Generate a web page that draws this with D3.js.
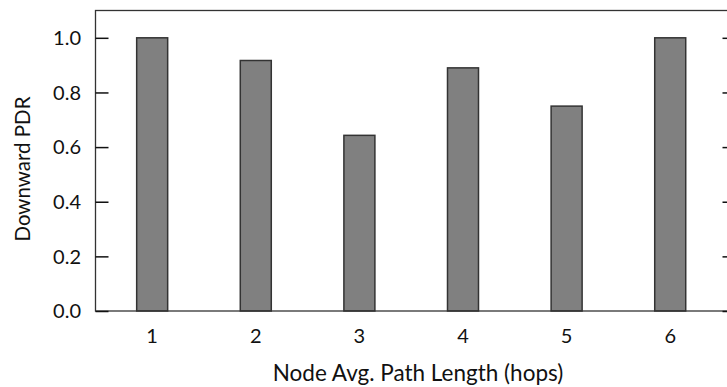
<!DOCTYPE html>
<html>
<head>
<meta charset="utf-8">
<script src="https://cdn.jsdelivr.net/npm/d3@7"></script>
<style>
  html, body { margin: 0; padding: 0; background: #fff; }
  svg { display: block; }
  text { font-family: Lato, "Open Sans", sans-serif; fill: #111; }
</style>
</head>
<body>
<svg id="chart" width="727" height="387"></svg>
<script>
// Path length (hops) categories and downward packet delivery ratio
const hops = [1, 2, 3, 4, 5, 6];
const pdr = [1.0, 0.917, 0.643, 0.89, 0.75, 1.0];
const yTicks = [0.0, 0.2, 0.4, 0.6, 0.8, 1.0];

const svg = d3.select("#chart");
const plotLeft = 95.5, plotRight = 735.5, plotTop = 10.5, plotBottom = 311;

const x = d3.scaleLinear().domain([0.453, 6.63]).range([plotLeft, plotRight]);
const y = d3.scaleLinear().domain([0, 1.1]).range([plotBottom, plotTop]);
const barW = 31;

// bars
svg.append("g").selectAll("rect").data(hops).join("rect")
  .attr("x", (d) => x(d) - barW / 2)
  .attr("y", (d, i) => y(pdr[i]))
  .attr("width", barW)
  .attr("height", (d, i) => y(0) - y(pdr[i]))
  .attr("fill", "#808080")
  .attr("stroke", "#333")
  .attr("stroke-width", 1.5);

// frame
svg.append("rect")
  .attr("x", plotLeft).attr("y", plotTop)
  .attr("width", plotRight - plotLeft).attr("height", plotBottom - plotTop)
  .attr("fill", "none").attr("stroke", "#333").attr("stroke-width", 1.3);

// left axis, ticks pointing inward
const yAxisL = svg.append("g").attr("transform", `translate(${plotLeft},0)`)
  .call(d3.axisRight(y).tickValues(yTicks).tickSize(13).tickFormat(""));
yAxisL.select(".domain").remove();
yAxisL.selectAll("line").attr("stroke", "#111").attr("stroke-width", 1.5);

// right axis, ticks pointing inward
const yAxisR = svg.append("g").attr("transform", `translate(${plotRight},0)`)
  .call(d3.axisLeft(y).tickValues(yTicks).tickSize(13).tickFormat(""));
yAxisR.select(".domain").remove();
yAxisR.selectAll("line").attr("stroke", "#111").attr("stroke-width", 1.5);

// y tick labels
svg.append("g").selectAll("text").data(yTicks).join("text")
  .attr("x", 81)
  .attr("y", (d) => y(d))
  .attr("dy", "0.36em")
  .attr("text-anchor", "end")
  .attr("font-size", 20)
  .text((d) => d3.format(".1f")(d));

// x tick labels
svg.append("g").selectAll("text").data(hops).join("text")
  .attr("x", (d) => x(d))
  .attr("y", 343)
  .attr("text-anchor", "middle")
  .attr("font-size", 20)
  .text((d) => d);

// axis titles
svg.append("text")
  .attr("x", 418)
  .attr("y", 381)
  .attr("text-anchor", "middle")
  .attr("font-size", 22.5)
  .text("Node Avg. Path Length (hops)");

svg.append("text")
  .attr("transform", `translate(30,169) rotate(-90)`)
  .attr("text-anchor", "middle")
  .attr("font-size", 20.5)
  .text("Downward PDR");
</script>
</body>
</html>
